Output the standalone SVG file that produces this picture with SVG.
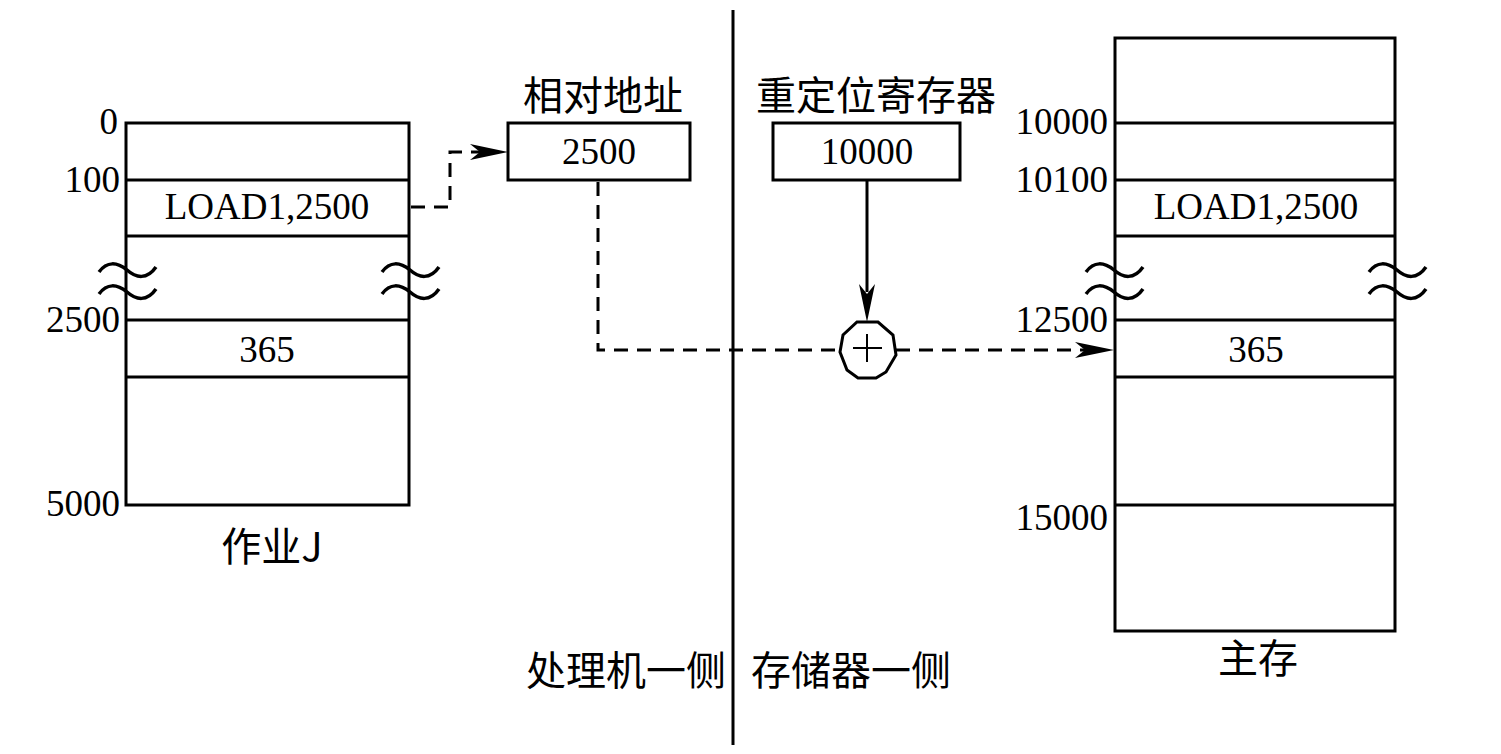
<svg xmlns="http://www.w3.org/2000/svg" width="1501" height="754" viewBox="0 0 1501 754">
<style>
.ln{stroke:#000;stroke-width:3;fill:none}
.dash{stroke:#000;stroke-width:3;fill:none;stroke-dasharray:14,9}
.t{font-family:"Liberation Serif","Times New Roman",serif;font-size:37px;fill:#000}
.c{font-family:"Noto Sans CJK SC",sans-serif;font-size:40px;fill:#000}
.wave{stroke:#000;stroke-width:3.5;fill:none}
</style>
<defs>
<path id="tilde" d="M-28,1 C-20,-10 -10,-9 0,-1 C9,7 20,9 29,-4" class="wave"/>
</defs>
<rect width="1501" height="754" fill="#fff"/>
<g id="job">
<path class="ln" d="M126,123 H409 V505 H126 Z M126,180 H409 M126,236 H409 M126,320 H409 M126,377 H409"/>
<use href="#tilde" x="127" y="271"/><use href="#tilde" x="127" y="293"/>
<use href="#tilde" x="410" y="271"/><use href="#tilde" x="410" y="293"/>
<g class="t" text-anchor="end">
<text x="118" y="134">0</text>
<text x="120" y="192">100</text>
<text x="120" y="332">2500</text>
<text x="120" y="516">5000</text>
</g>
<text class="t" x="267" y="219" text-anchor="middle">LOAD1,2500</text>
<text class="t" x="267" y="362" text-anchor="middle">365</text>
<text class="c" x="272" y="561" text-anchor="middle">作业J</text>
</g>
<g id="reladdr">
<rect class="ln" x="508" y="123" width="182" height="57"/>
<text class="t" x="599" y="164" text-anchor="middle">2500</text>
<text class="c" x="603" y="110" text-anchor="middle">相对地址</text>
</g>
<g id="relreg">
<rect class="ln" x="773" y="123" width="187" height="57"/>
<text class="t" x="867" y="164" text-anchor="middle">10000</text>
<text class="c" x="876" y="110" text-anchor="middle">重定位寄存器</text>
</g>
<g id="adder">
<polygon class="ln" points="857,322 878,322 893,335 896,355 886,372 876,378 858,378 847,370 840,352 843,335"/>
<path d="M867,334 V362 M853,348 H882" stroke="#000" stroke-width="2" fill="none"/>
</g>
<g id="memory">
<path class="ln" d="M1115,38 H1395 V631 H1115 Z M1115,123 H1395 M1115,180 H1395 M1115,236 H1395 M1115,320 H1395 M1115,377 H1395 M1115,505 H1395"/>
<use href="#tilde" x="1114" y="271"/><use href="#tilde" x="1114" y="293"/>
<use href="#tilde" x="1397" y="271"/><use href="#tilde" x="1397" y="293"/>
<g class="t" text-anchor="end">
<text x="1108" y="134">10000</text>
<text x="1108" y="192">10100</text>
<text x="1108" y="332">12500</text>
<text x="1108" y="530">15000</text>
</g>
<text class="t" x="1256" y="219" text-anchor="middle">LOAD1,2500</text>
<text class="t" x="1256" y="362" text-anchor="middle">365</text>
<text class="c" x="1258" y="673" text-anchor="middle">主存</text>
</g>
<g id="divider">
<line class="ln" x1="733" y1="10" x2="733" y2="745"/>
<text class="c" x="626" y="685" text-anchor="middle">处理机一侧</text>
<text class="c" x="851" y="685" text-anchor="middle">存储器一侧</text>
</g>
<g id="connectors">
<path class="dash" d="M411,207 H450 V152 H480"/>
<polygon points="508,152 470,144 480,152 470,160" fill="#000"/>
<path class="dash" d="M598,182 V350 H840"/>
<path class="ln" d="M867,180 V292"/>
<polygon points="867,322 859,284 867,294 875,284" fill="#000"/>
<path class="dash" d="M896,350 H1085"/>
<polygon points="1114,350 1075,342 1085,350 1075,358" fill="#000"/>
</g>
</svg>
